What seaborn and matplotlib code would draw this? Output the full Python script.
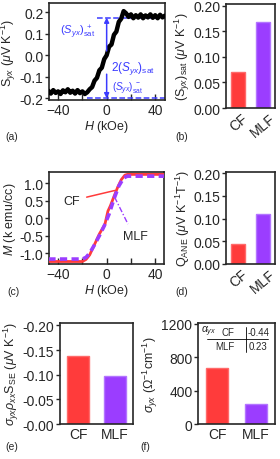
import numpy as np
import pandas as pd
import matplotlib
matplotlib.use("Agg")
import matplotlib.pyplot as plt
import seaborn as sns

sns.set_style("ticks")
plt.rcParams["font.family"] = ["Liberation Sans", "DejaVu Sans"]
plt.rcParams["mathtext.fontset"] = "custom"
plt.rcParams["mathtext.rm"] = "Liberation Sans"
plt.rcParams["mathtext.it"] = "Liberation Sans:italic"
plt.rcParams["mathtext.bf"] = "Liberation Sans:bold"
plt.rcParams["axes.linewidth"] = 1.2

# ---- data ----
# (a) S_yx vs H (noisy trace, read point by point)
H_s = [-48, -46, -44, -42, -40, -38, -36, -34, -32, -30, -28, -26, -24, -22,
       -20, -18, -16, -14, -12, -10, -8, -6, -4, -2, 0, 2, 4, 6, 8, 10, 12,
       14, 16, 18, 20, 22, 24, 26, 28, 30, 32, 34, 36, 38, 40, 42, 44, 46, 48]
S_yx = [-0.165, -0.178, -0.162, -0.175, -0.168, -0.18, -0.163, -0.172,
        -0.158, -0.174, -0.165, -0.178, -0.162, -0.176, -0.168, -0.18,
        -0.172, -0.158, -0.148, -0.118, -0.105, -0.07, -0.058, -0.018, 0.0,
        0.04, 0.05, 0.095, 0.11, 0.155, 0.17, 0.205, 0.195, 0.178, 0.19,
        0.172, 0.186, 0.175, 0.19, 0.172, 0.185, 0.176, 0.19, 0.174, 0.186,
        0.172, 0.188, 0.176, 0.184]

# (b) saturated S_yx
samples = ["CF", "MLF"]
S_sat = [0.07, 0.168]

# (c) magnetisation
H_cf = [-48, -20, -17, -14, -10, -6, -3, -1.5, 0, 1, 3, 6, 9, 12, 15, 17, 48]
M_cf = [-1.24, -1.24, -1.18, -1.05, -0.75, -0.45, -0.27, -0.18, 0.05, 0.2,
        0.35, 0.62, 0.88, 1.1, 1.23, 1.25, 1.25]
H_mlf = [-48, -20, -17, -14, -10, -6, -2, 0, 2, 6, 10, 14, 17, 48]
M_mlf = [-1.17, -1.17, -1.12, -1.0, -0.76, -0.5, -0.22, -0.05, 0.12, 0.55,
         0.92, 1.15, 1.2, 1.2]

# (d) Q_ANE
Q_ane = [0.043, 0.11]

# (e) sigma_yx rho_xx S_SE
sse = [-0.138, -0.097]

# (f) sigma_yx and alpha_yx
sigma_yx = [670, 245]
alpha_yx = ["-0.44", "0.23"]

red = "#FF3B3B"
purple = "#9B3DFF"
blue = "#3B3BFF"
cols = [red, purple]
edges = ["#FF6A6A", "#B375FF"]

fig = plt.figure(figsize=(2.8, 4.6), dpi=100)
ax_a = fig.add_axes([0.175, 0.7804, 0.414, 0.211])
ax_b = fig.add_axes([0.808, 0.763, 0.174, 0.226])
ax_c = fig.add_axes([0.175, 0.424, 0.41, 0.2])
ax_d = fig.add_axes([0.808, 0.424, 0.174, 0.2])
ax_e = fig.add_axes([0.214, 0.076, 0.261, 0.2196])
ax_f = fig.add_axes([0.707, 0.076, 0.275, 0.2196])

tfs = 10
lfs = 9

# ---- (a) ----
sns.lineplot(x=H_s, y=S_yx, ax=ax_a, color="k", lw=3.2, estimator=None,
             sort=False, zorder=3)
ax_a.plot([-8, 48], [0.175, 0.175], ls="--", color=blue, lw=1.1, zorder=2)
ax_a.plot([-16, 48], [-0.2, -0.2], ls="--", color=blue, lw=1.1, zorder=2)
ax_a.annotate("", xy=(0, 0.175), xytext=(0, 0.02),
              arrowprops=dict(arrowstyle="-|>", color=blue, lw=1.1,
                              mutation_scale=7, shrinkA=0, shrinkB=0))
ax_a.annotate("", xy=(0, -0.2), xytext=(0, -0.088),
              arrowprops=dict(arrowstyle="-|>", color=blue, lw=1.1,
                              mutation_scale=7, shrinkA=0, shrinkB=0))
ax_a.text(-9.5, 0.113, r"$(S_{yx})_{\rm sat}^{\ +}$", color=blue,
          fontsize=8, ha="right", va="center")
ax_a.text(3.5, -0.055, r"2$(S_{yx})_{\rm sat}$", color=blue,
          fontsize=8.5, ha="left", va="center", zorder=4)
ax_a.text(4.5, -0.152, r"$(S_{yx})_{\rm sat}^{\ -}$", color=blue,
          fontsize=7, ha="left", va="center", zorder=4)
ax_a.set_xlim(-47.5, 48)
ax_a.set_ylim(-0.208, 0.243)
ax_a.set_xticks([-40, 0, 40])
ax_a.set_xticks([-20, 20], minor=True)
ax_a.set_yticks([-0.2, -0.1, 0.0, 0.1, 0.2])
ax_a.set_yticklabels(["-0.2", "-0.1", "0.0", "0.1", "0.2"])
ax_a.set_xlabel(r"$H$ (kOe)", fontsize=lfs, labelpad=1)
ax_a.set_ylabel(r"S$_{yx}$ ($\mu$V K$^{-1}$)", fontsize=lfs, labelpad=1)

# ---- (c) ----
sns.lineplot(x=H_cf, y=M_cf, ax=ax_c, color=red, lw=2.0, estimator=None,
             sort=False, zorder=3)
sns.lineplot(x=H_mlf, y=M_mlf, ax=ax_c, color=purple, lw=2.6,
             estimator=None, sort=False, zorder=4)
ax_c.lines[-1].set_linestyle((0, (2.0, 1.2)))
ax_c.text(-29, 0.49, "CF", fontsize=lfs, ha="center", va="center")
ax_c.plot([-16.5, 6.6], [0.6, 0.79], color=red, lw=1.1, zorder=5)
ax_c.text(24, -0.5, "MLF", fontsize=lfs, ha="center", va="center")
ax_c.plot([6.5, 17.5], [0.6, -0.17], color=purple, lw=1.0,
          ls=(0, (4, 1.5, 1, 1.5)), zorder=5)
ax_c.set_xlim(-47.5, 47)
ax_c.set_ylim(-1.31, 1.32)
ax_c.set_xticks([-40, 0, 40])
ax_c.set_xticks([-20, 20], minor=True)
ax_c.set_yticks([-1.0, -0.5, 0.0, 0.5, 1.0])
ax_c.set_yticklabels(["-1.0", "-0.5", "0.0", "0.5", "1.0"])
ax_c.set_xlabel(r"$H$ (kOe)", fontsize=lfs, labelpad=1)
ax_c.set_ylabel(r"$M$ (k emu/cc)", fontsize=lfs, labelpad=1)

for ax in (ax_a, ax_c):
    ax.tick_params(axis="x", which="both", direction="in", length=4,
                   width=1, labelsize=tfs, pad=2)
    ax.tick_params(axis="y", direction="out", length=3, width=1,
                   labelsize=tfs, pad=1)


def bars(ax, vals, width):
    df = pd.DataFrame({"sample": samples, "val": vals})
    sns.barplot(data=df, x="sample", y="val", hue="sample", palette=cols,
                width=width, saturation=1, legend=False, ax=ax)
    for p, ec in zip(ax.patches, edges):
        p.set_edgecolor(ec)
        p.set_linewidth(1.0)
    ax.set_xlim(-0.5, 1.5)
    ax.set_xlabel("")
    ax.tick_params(axis="x", length=0, labelsize=tfs, pad=2)
    ax.tick_params(axis="y", direction="out", length=3, width=1,
                   labelsize=tfs, pad=1)


# ---- (b) ----
bars(ax_b, S_sat, 0.57)
ax_b.set_ylim(0, 0.203)
ax_b.set_yticks([0, 0.05, 0.1, 0.15, 0.2])
ax_b.set_yticklabels(["0.00", "0.05", "0.10", "0.15", "0.20"])
ax_b.set_xticks([0, 1])
ax_b.set_xticklabels(samples, rotation=40, ha="center")
ax_b.set_ylabel(r"(S$_{yx}$)$_{\rm sat}$ ($\mu$V K$^{-1}$)", fontsize=lfs,
                labelpad=1)

# ---- (d) ----
bars(ax_d, Q_ane, 0.57)
ax_d.set_ylim(0, 0.203)
ax_d.set_yticks([0, 0.05, 0.1, 0.15, 0.2])
ax_d.set_yticklabels(["0.00", "0.05", "0.10", "0.15", "0.20"])
ax_d.set_xticks([0, 1])
ax_d.set_xticklabels(samples, rotation=40, ha="center")
ax_d.set_ylabel(r"Q$_{\rm ANE}$ ($\mu$V K$^{-1}$T$^{-1}$)", fontsize=lfs,
                labelpad=1)

# ---- (e) ----
bars(ax_e, sse, 0.6)
ax_e.set_ylim(0, -0.205)
ax_e.set_yticks([0, -0.05, -0.1, -0.15, -0.2])
ax_e.set_yticklabels(["-0.00", "-0.05", "-0.10", "-0.15", "-0.20"])
ax_e.set_ylabel(r"$\sigma_{yx}\rho_{xx}$S$_{\rm SE}$ ($\mu$V K$^{-1}$)",
                fontsize=lfs, labelpad=1)

# ---- (f) ----
bars(ax_f, sigma_yx, 0.57)
ax_f.set_ylim(0, 1210)
ax_f.set_yticks([0, 400, 800, 1200])
ax_f.set_ylabel(r"$\sigma_{yx}$ ($\Omega^{-1}$cm$^{-1}$)", fontsize=lfs,
                labelpad=1)
tf = ax_f.transAxes
ax_f.text(0.04, 0.925, r"$\alpha_{yx}$", transform=tf, fontsize=7.5,
          ha="left", va="center")
ax_f.text(0.47, 0.91, samples[0], transform=tf, fontsize=7, ha="right",
          va="center")
ax_f.text(0.64, 0.91, alpha_yx[0], transform=tf, fontsize=7, ha="left",
          va="center")
ax_f.text(0.47, 0.77, samples[1], transform=tf, fontsize=7, ha="right",
          va="center")
ax_f.text(0.66, 0.77, alpha_yx[1], transform=tf, fontsize=7, ha="left",
          va="center")
ax_f.plot([0.12, 0.91], [0.845, 0.845], color="k", lw=0.6, transform=tf)
ax_f.plot([0.623, 0.623], [0.71, 0.96], color="k", lw=0.6, transform=tf)

# panel labels
for lab, x, y in [("(a)", 12, 137), ("(b)", 182, 137), ("(c)", 13, 292),
                  ("(d)", 182, 292), ("(e)", 12, 447), ("(f)", 145, 447)]:
    fig.text(x / 280, 1 - y / 460, lab, fontsize=7.5, ha="center",
             va="center")

fig.savefig("out.png", dpi=100)
